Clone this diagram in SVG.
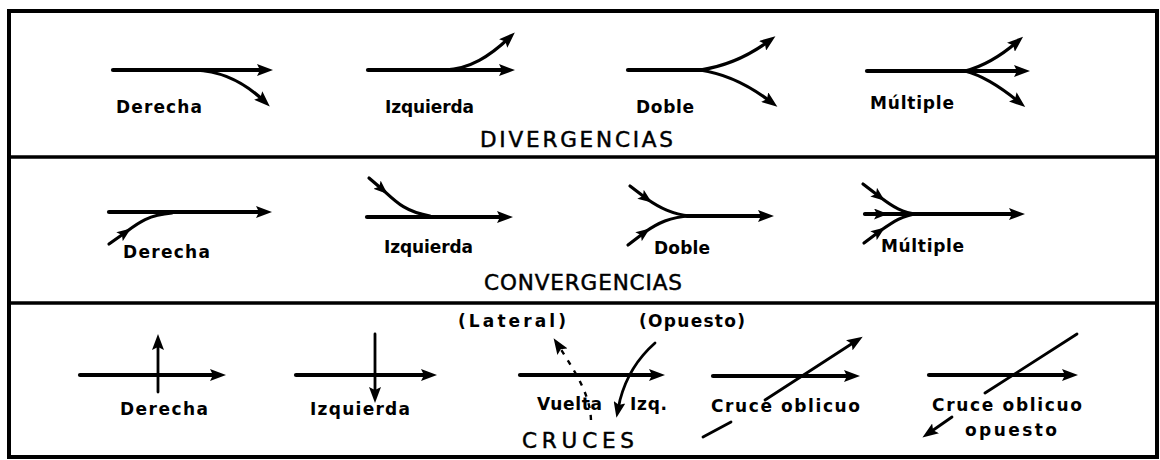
<svg xmlns="http://www.w3.org/2000/svg" width="1160" height="460" viewBox="0 0 1160 460">
<style>
.frame{fill:none;stroke:#000;stroke-width:4}
.div{stroke:#000;stroke-width:3.5}
.m{fill:none;stroke:#000;stroke-width:4.2;stroke-linecap:round}
.b{fill:none;stroke:#000;stroke-width:3.2;stroke-linecap:round}
.t{fill:none;stroke:#000;stroke-width:2.8;stroke-linecap:round}
.d{fill:none;stroke:#000;stroke-width:2.4;stroke-dasharray:5 7}
.e{marker-end:url(#ah)}
.mm{marker-mid:url(#am)}
.lb{font-family:"DejaVu Sans","Liberation Sans",sans-serif;font-weight:bold;font-size:17px;fill:#000}
.hd{font-family:"DejaVu Sans","Liberation Sans",sans-serif;font-size:21.5px;fill:#000;stroke:#000;stroke-width:0.5}
</style>
<defs>
<marker id="ah" viewBox="0 0 16 12" refX="8" refY="6" markerWidth="16" markerHeight="12" markerUnits="userSpaceOnUse" orient="auto"><path d="M0,0 L16,6 L0,12 L3,6 Z" fill="#000"/></marker>
<marker id="am" viewBox="0 0 14 11" refX="8" refY="5.5" markerWidth="14" markerHeight="11" markerUnits="userSpaceOnUse" orient="auto"><path d="M0,0 L14,5.5 L0,11 L3,5.5 Z" fill="#000"/></marker>
</defs>
<rect width="1160" height="460" fill="#fff"/>
<g id="frame">
<rect class="frame" x="9" y="11" width="1148" height="446"/>
<line class="div" x1="9" y1="157" x2="1157" y2="157"/>
<line class="div" x1="9" y1="303" x2="1157" y2="303"/>
</g>
<g id="connectors">
<g id="div-derecha">
<path class="m e" d="M113,70 L265,70"/>
<path class="b e" d="M195,70 C222,71 245,83 264,101"/>
</g>
<g id="div-izquierda">
<path class="m e" d="M368,70 L507,70"/>
<path class="b e" d="M445,70 C470,69 490,56 509,38"/>
</g>
<g id="div-doble">
<path class="m" d="M628,70 L705,70"/>
<path class="b e" d="M700,70 C728,66 750,55 769,41"/>
<path class="b e" d="M700,70 C728,74 750,86 771,102"/>
</g>
<g id="div-multiple">
<path class="m e" d="M867,71 L1022,71"/>
<path class="b e" d="M965,71 C985,66 1003,54 1017,42"/>
<path class="b e" d="M965,71 C985,76 1003,89 1019,102"/>
</g>
<g id="conv-derecha">
<path class="m e" d="M109,212 L264,212"/>
<path class="b mm" d="M109,244 L126,232 C138,223 148,215 172,213"/>
</g>
<g id="conv-izquierda">
<path class="m e" d="M367,217 L505,217"/>
<path class="b mm" d="M369,178 L383,190 C395,201 405,212 430,216"/>
</g>
<g id="conv-doble">
<path class="m e" d="M687,216 L766,216"/>
<path class="b mm" d="M630,186 L647,199 C660,208 672,214 690,216"/>
<path class="b mm" d="M628,245 L645,232 C658,223 670,217 690,216"/>
</g>
<g id="conv-multiple">
<path class="m e" d="M865,214 L1017,214"/>
<path class="b mm" d="M863,184 L880,197 C893,207 903,213 917,214"/>
<path class="b mm" d="M865,214 L882,214 L917,214"/>
<path class="b mm" d="M864,243 L880,231 C893,222 903,215 917,214"/>
</g>
<g id="cruce-derecha">
<path class="m e" d="M80,375 L218,375"/>
<path class="t e" d="M158,392 L158,342"/>
</g>
<g id="cruce-izquierda">
<path class="m e" d="M296,375 L429,375"/>
<path class="t e" d="M375,334 L375,395"/>
</g>
<g id="cruce-vuelta">
<path class="m e" d="M520,375 L657,375"/>
<path class="d e" d="M591,420 C590,398 581,380 558,345"/>
<path class="t e" d="M655,343 C638,358 626,377 620,400 L618,410"/>
</g>
<g id="cruce-oblicuo">
<path class="m e" d="M713,376 L852,376"/>
<path class="t e" d="M765,400 L856,341"/>
<path class="t" d="M703,437 L731,422"/>
</g>
<g id="cruce-oblicuo-opuesto">
<path class="m e" d="M929,375 L1070,375"/>
<path class="t" d="M1077,334 L985,393"/>
<path class="t e" d="M952,417 L929,433"/>
</g>
</g>
<g id="labels">
<text class="lb" x="116" y="113" textLength="86" lengthAdjust="spacing">Derecha</text>
<text class="lb" x="385" y="113" textLength="89" lengthAdjust="spacing">Izquierda</text>
<text class="lb" x="636" y="113" textLength="58" lengthAdjust="spacing">Doble</text>
<text class="lb" x="870" y="109" textLength="84" lengthAdjust="spacing">Múltiple</text>
<text class="hd" x="480" y="147" textLength="193" lengthAdjust="spacing">DIVERGENCIAS</text>
<text class="lb" x="123" y="258" textLength="87" lengthAdjust="spacing">Derecha</text>
<text class="lb" x="384" y="253" textLength="89" lengthAdjust="spacing">Izquierda</text>
<text class="lb" x="654" y="254" textLength="56" lengthAdjust="spacing">Doble</text>
<text class="lb" x="881" y="252" textLength="83" lengthAdjust="spacing">Múltiple</text>
<text class="hd" x="484" y="290" textLength="198" lengthAdjust="spacing">CONVERGENCIAS</text>
<text class="lb" x="458" y="327" textLength="108" lengthAdjust="spacing">(Lateral)</text>
<text class="lb" x="639" y="327" textLength="106" lengthAdjust="spacing">(Opuesto)</text>
<text class="lb" x="120" y="415" textLength="88" lengthAdjust="spacing">Derecha</text>
<text class="lb" x="310" y="415" textLength="100" lengthAdjust="spacing">Izquierda</text>
<text class="lb" y="410"><tspan x="537" textLength="65" lengthAdjust="spacing">Vuelta</tspan> <tspan x="630" textLength="37" lengthAdjust="spacing">Izq.</tspan></text>
<text class="lb" x="711" y="412" textLength="149" lengthAdjust="spacing">Cruce oblicuo</text>
<text class="lb" x="932" y="411" textLength="150" lengthAdjust="spacing">Cruce oblicuo</text>
<text class="lb" x="965" y="436" textLength="92" lengthAdjust="spacing">opuesto</text>
<text class="hd" x="522" y="448" textLength="112" lengthAdjust="spacing">CRUCES</text>
</g>
</svg>
